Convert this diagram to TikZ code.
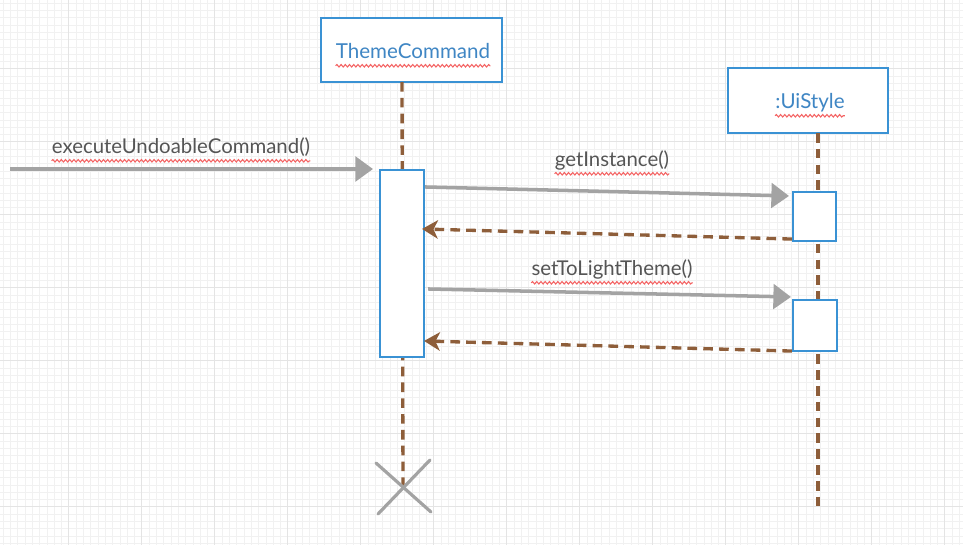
\documentclass[tikz,border=0pt]{standalone}
\usepackage{fontspec}
\setmainfont{Lato}
\usetikzlibrary{arrows.meta,positioning,decorations.pathmorphing}
\definecolor{umlblue}{HTML}{3A92D4}
\definecolor{umltext}{HTML}{3F86C4}
\definecolor{msggray}{HTML}{A3A3A3}
\definecolor{retbrown}{HTML}{8E5E3A}
\definecolor{labelgray}{HTML}{555555}
\definecolor{squigred}{HTML}{F46363}
\definecolor{gridminor}{HTML}{F1F1F1}
\definecolor{gridmajor}{HTML}{E4E4E4}

\begin{document}
\begin{tikzpicture}[x=0.02cm, y=-0.02cm,
  objbox/.style={draw=umlblue, line width=1.2pt, fill=white, inner sep=0pt},
  objtext/.style={text=umltext, font=\fontsize{11.7}{14}\selectfont, inner sep=0pt,
    text height=0.75em, text depth=0.25em},
  actbox/.style={draw=umlblue, line width=1.2pt, fill=white, inner sep=0pt},
  msglabel/.style={text=labelgray, font=\fontsize{11.6}{14}\selectfont, inner sep=0pt,
    text height=0.75em, text depth=0.25em},
  msg/.style={msggray, line width=2pt, -{Triangle[length=10pt, width=14pt]}},
  ret/.style={retbrown, line width=1.9pt, dash pattern=on 5.5pt off 3.5pt,
    -{Stealth[length=9pt, width=10.5pt, inset=2.5pt]}},
  life/.style={retbrown, line width=1.9pt, dash pattern=on 5.5pt off 3.5pt},
  cross/.style={msggray, line width=1.8pt, line cap=round},
  squig/.style={squigred, line width=0.6pt, decorate,
    decoration={snake, segment length=2.4pt, amplitude=0.7pt}}]
\useasboundingbox (0,0) rectangle (963,545);
% ---- grid paper ----
\fill[white] (0,0) rectangle (963,545);
\foreach \i in {0,...,131}
  \draw[gridminor, line width=0.3pt] (3+\i*7.3,0) -- (3+\i*7.3,545);
\foreach \i in {0,...,74}
  \draw[gridminor, line width=0.3pt] (0,3+\i*7.3) -- (963,3+\i*7.3);
\foreach \i in {0,...,13}
  \draw[gridmajor, line width=0.4pt] (68.7+\i*73,0) -- (68.7+\i*73,545);
\foreach \i in {0,...,7}
  \draw[gridmajor, line width=0.4pt] (0,68.7+\i*73) -- (963,68.7+\i*73);
% ---- objects ----
\node[objbox, minimum width=3.62cm, minimum height=1.28cm] (tc) at (411.5,50) {};
\node[objtext] (tclbl) at (413,54) {ThemeCommand};
\draw[squig] ([yshift=-1.5pt]tclbl.south west) -- ([yshift=-1.5pt]tclbl.south east);
\node[objbox, minimum width=3.2cm, minimum height=1.3cm] (ui) at (808,100.5) {};
\node[objtext] (uilbl) at (810,104) {:UiStyle};
\draw[squig] ([yshift=-1.5pt]uilbl.south west) -- ([yshift=-1.5pt]uilbl.south east);
% ---- lifelines ----
\coordinate (tctop) at (402,82);
\coordinate (tcend) at (403,487);
\coordinate (uitop) at (818,133);
\coordinate (uiend) at (818,507);
\draw[life] (tctop) -- (tcend);
\draw[life] (uitop) -- (uiend);
% ---- activations ----
\node[actbox, minimum width=0.88cm, minimum height=3.74cm] (tcact) at (402,263.5) {};
\node[actbox, minimum width=0.86cm, minimum height=0.98cm] (ua) at (814.5,216.5) {};
\node[actbox, minimum width=0.88cm, minimum height=1.02cm] (ub) at (815,325.5) {};
% ---- destruction ----
\draw[cross] ([shift={(-27,-24)}]tcend) -- ([shift={(28,25)}]tcend);
\draw[cross] ([shift={(-25,27)}]tcend) -- ([shift={(27,-27)}]tcend);
% ---- messages ----
\coordinate (start) at (10,169);
\draw[msg, shorten >=3.4pt] (start) -- (start -| tcact.west);
\node[msglabel] (execlbl) at (181,149) {executeUndoableCommand()};
\draw[squig] ([yshift=-1.5pt]execlbl.south west) -- ([yshift=-1.5pt]execlbl.south east);

\draw[msg] ([shift={(0,18)}]tcact.north east) -- ([shift={(-3,5)}]ua.north west);
\node[msglabel] (getlbl) at (612,162) {getInstance()};
\draw[squig] ([yshift=-1.5pt]getlbl.south west) -- ([yshift=-1.5pt]getlbl.south east);
\draw[ret] ([shift={(0,-3)}]ua.south west) -- ([shift={(-3,60)}]tcact.north east);

\draw[msg] ([shift={(3,120)}]tcact.north east) -- ([shift={(-1,-2)}]ub.north west);
\node[msglabel] (setlbl) at (612,271) {setToLightTheme()};
\draw[squig] ([yshift=-1.5pt]setlbl.south west) -- ([yshift=-1.5pt]setlbl.south east);
\draw[ret] ([shift={(0,-1)}]ub.south west) -- ([shift={(-1,172)}]tcact.north east);
\end{tikzpicture}
\end{document}
